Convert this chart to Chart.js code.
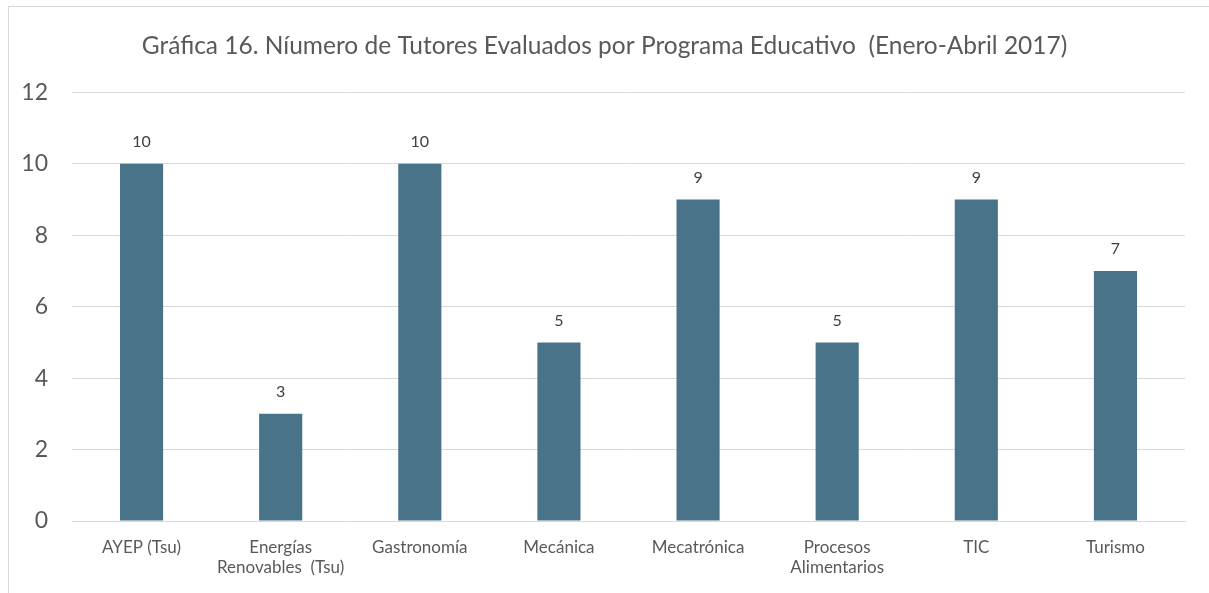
<!DOCTYPE html>
<html>
<head>
<meta charset="utf-8">
<script src="https://cdn.jsdelivr.net/npm/chart.js@4"></script>
<style>
  body { margin: 0; background: #fff; }
  #wrap { position: relative; width: 1209px; height: 593px; }
  #frame { position: absolute; left: 8px; top: 6px; width: 1230px; height: 620px; border: 1px solid #d9d9d9; box-sizing: border-box; }
  canvas { position: absolute; left: 0; top: 0; }
</style>
</head>
<body>
<div id="wrap">
  <div id="frame"></div>
  <canvas id="chart" width="1209" height="593"></canvas>
</div>
<script>
const titleText = "Gráfica 16. Níumero de Tutores Evaluados por Programa Educativo  (Enero-Abril 2017)";
const categories = [
  "AYEP (Tsu)",
  ["Energías", "Renovables  (Tsu)"],
  "Gastronomía",
  "Mecánica",
  "Mecatrónica",
  ["Procesos", "Alimentarios"],
  "TIC",
  "Turismo",
];
const tutores = [10, 3, 10, 5, 9, 5, 9, 7];
const yMin = 0;
const yMax = 12;
const yStep = 2;

const fontFamily = "Lato, 'Open Sans', sans-serif";

// value labels above each bar
const barLabels = {
  id: "barLabels",
  afterDatasetsDraw(chart) {
    const ctx = chart.ctx;
    const meta = chart.getDatasetMeta(0);
    ctx.save();
    ctx.font = "16px " + fontFamily;
    ctx.fillStyle = "#404040";
    ctx.textAlign = "center";
    ctx.textBaseline = "middle";
    meta.data.forEach((bar, i) => {
      ctx.fillText(String(tutores[i]), bar.x, bar.y - 22);
    });
    ctx.restore();
  },
};

const config = {
  type: "bar",
  data: {
    labels: categories,
    datasets: [
      {
        label: "Tutores",
        data: tutores,
        backgroundColor: "#497389",
        borderWidth: 0,
        categoryPercentage: 1,
        barPercentage: 0.31,
      },
    ],
  },
  options: {
    responsive: false,
    animation: false,
    layout: { padding: 0 },
    plugins: {
      legend: { display: false },
      tooltip: { enabled: false },
      title: {
        display: true,
        text: titleText,
        color: "#595959",
        font: { family: fontFamily, size: 24.5, weight: "normal" },
        padding: { top: 31, bottom: 32 },
      },
    },
    scales: {
      x: {
        grid: { display: false, drawTicks: false },
        border: { display: true, color: "#d9d9d9", width: 1 },
        ticks: {
          color: "#595959",
          font: { family: fontFamily, size: 17 },
          lineHeight: 1.25,
          padding: 16,
          maxRotation: 0,
          autoSkip: false,
        },
        afterFit(scale) { scale.height = 72; },
      },
      y: {
        min: yMin,
        max: yMax,
        grid: { color: "#d9d9d9", drawTicks: false },
        border: { display: false },
        ticks: {
          stepSize: yStep,
          color: "#595959",
          font: { family: fontFamily, size: 23 },
          padding: 24,
        },
        afterFit(scale) { scale.width = 72; },
      },
      yRight: {
        position: "right",
        display: true,
        grid: { display: false, drawTicks: false },
        border: { display: false },
        ticks: { display: false },
        afterFit(scale) { scale.width = 24; },
      },
    },
  },
  plugins: [barLabels],
};

new Chart(document.getElementById("chart"), config);
</script>
</body>
</html>
